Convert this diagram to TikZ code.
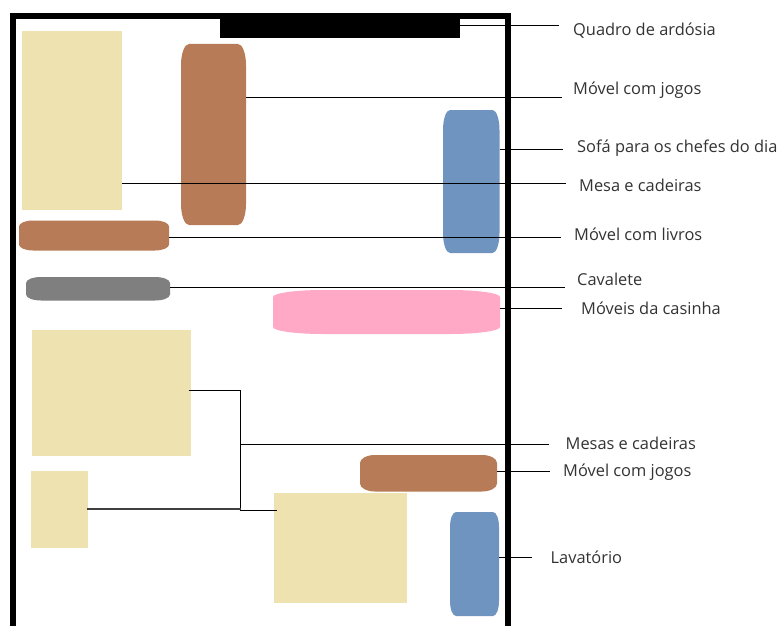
\documentclass[tikz,border=0pt]{standalone}
\usepackage{fontspec}
\setmainfont{Open Sans}
\definecolor{sand}{HTML}{EDE2B0}
\definecolor{wood}{HTML}{B77B57}
\definecolor{steel}{HTML}{7094C0}
\definecolor{pinkf}{HTML}{FFA9C6}
\definecolor{greyf}{HTML}{7F7F7F}
\definecolor{ink}{HTML}{333333}
\tikzset{
 x=1pt,y=-1pt,
 lbl/.style={anchor=base west,inner sep=0,font=\fontsize{16.4}{19}\selectfont,text=ink},
 lead/.style={draw=black,line width=0.9pt},
 leadb/.style={draw=black!75,line width=1.1pt},
}
% name, x0,y0,x1,y1, colour, corner dx, corner dy
\newcommand{\barrel}[8]{%
 \fill[#6] (#2+#7,#3) -- (#4-#7,#3) .. controls (#4-#7*0.45,#3) and (#4,#3+#8*0.45) .. (#4,#3+#8)
  -- (#4,#5-#8) .. controls (#4,#5-#8*0.45) and (#4-#7*0.45,#5) .. (#4-#7,#5)
  -- (#2+#7,#5) .. controls (#2+#7*0.45,#5) and (#2,#5-#8*0.45) .. (#2,#5-#8)
  -- (#2,#3+#8) .. controls (#2,#3+#8*0.45) and (#2+#7*0.45,#3) .. (#2+#7,#3) -- cycle;
 \coordinate (#1) at (#4,#3);}
\begin{document}
\begin{tikzpicture}
\useasboundingbox (0,0) rectangle (777,626);
\fill[white] (0,0) rectangle (777,626);
% room
\draw[line width=6pt,line join=miter] (12.6,630) -- (12.6,16) -- (507.7,16) -- (507.7,630);
\fill[black] (220,14) rectangle (460,38);
% furniture
\fill[sand] (22,31) rectangle (122,210);
\fill[sand] (32,330) rectangle (191,456);
\fill[sand] (31,471) rectangle (88,548);
\fill[sand] (274,493) rectangle (407,603);
\barrel{jogosa}{181}{44}{246}{225}{wood}{8}{21}
\barrel{sofa}{443}{110}{499.5}{253}{steel}{7}{20}
\barrel{livros}{19}{220.5}{169}{250.5}{wood}{14}{6}
\barrel{cav}{26}{277}{170}{300.5}{greyf}{15}{6}
\barrel{casinha}{273}{290}{500}{334}{pinkf}{50}{7}
\barrel{jogosb}{360}{455}{497}{491.5}{wood}{15}{8}
\barrel{lav}{450}{512}{499}{616}{steel}{6}{15}
% labels
\node[lbl] (l1) at (573,36) {Quadro de ardósia};
\node[lbl] (l2) at (573,95) {Móvel com jogos};
\node[lbl] (l3) at (577,152.7) {Sofá para os chefes do dia};
\node[lbl] (l4) at (579,191) {Mesa e cadeiras};
\node[lbl] (l5) at (574,240) {Móvel com livros};
\node[lbl] (l6) at (577,285) {Cavalete};
\node[lbl] (l7) at (581,314) {Móveis da casinha};
\node[lbl] (l8) at (565.5,449.5) {Mesas e cadeiras};
\node[lbl] (l9) at (563,476) {Móvel com jogos};
\node[lbl] (l10) at (550.5,563) {Lavatório};
% leaders
\coordinate (e1) at (559,25);
\coordinate (e2) at (561.5,97);
\coordinate (e3) at (562.5,149.5);
\coordinate (e4) at (566,183.3);
\coordinate (e5) at (561,237);
\coordinate (e6) at (565,287);
\coordinate (e7) at (562,308);
\coordinate (e8) at (549,444.5);
\coordinate (e9) at (550,471);
\coordinate (e10) at (532,557);
\coordinate (j1) at (240.7,390);
\coordinate (j2) at (240.7,509.5);
\draw[lead] (460,25) -- (e1);
\draw[lead] (jogosa |- e2) -- (e2);
\draw[lead] (sofa |- e3) -- (e3);
\draw[lead] (122,183.3) -- (e4);
\draw[lead] (livros |- e5) -- (e5);
\draw[lead] (cav |- e6) -- (e6);
\draw[lead] (casinha |- e7) -- (e7);
\draw[lead] (188.5,390) -- (j1) -- (j2);
\draw[lead] (j1 |- e8) -- (e8);
\draw[leadb] (86.5,509) -- (j2 |- 0,509);
\draw[lead] (239.5,510) -- (276.5,510);
\draw[lead] (jogosb |- e9) -- (e9);
\draw[lead] (lav |- e10) -- (e10);
\end{tikzpicture}
\end{document}
